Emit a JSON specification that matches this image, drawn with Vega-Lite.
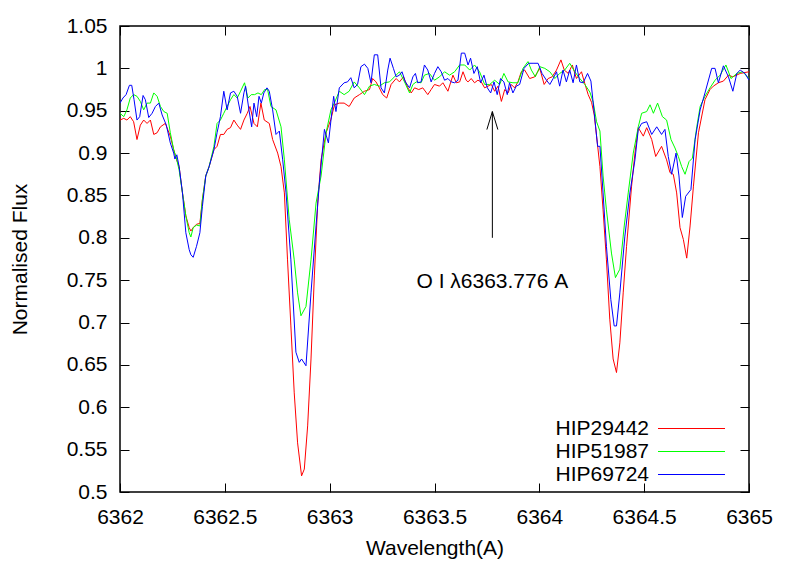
{
  "$schema": "https://vega.github.io/schema/vega-lite/v6.json",
  "width": 629,
  "height": 466,
  "autosize": {"type": "none"},
  "padding": {"left": 120, "top": 26, "right": 40, "bottom": 72},
  "background": "white",
  "config": {
    "font": "Liberation Sans",
    "view": {"stroke": "black", "strokeWidth": 1.5},
    "axis": {
      "labelFont": "Liberation Sans", "labelFontSize": 21, "labelColor": "black",
      "titleFont": "Liberation Sans", "titleFontSize": 21, "titleFontWeight": "normal", "titleColor": "black",
      "domain": false, "grid": false, "tickColor": "black", "tickWidth": 1
    }
  },
  "resolve": {"axis": {"x": "independent", "y": "independent"}},
  "layer": [
    {
      "data": {"values": [
        {"star":"HIP29442","wl":6362.000,"flux":0.939},{"star":"HIP29442","wl":6362.018,"flux":0.941},{"star":"HIP29442","wl":6362.033,"flux":0.939},{"star":"HIP29442","wl":6362.049,"flux":0.943},{"star":"HIP29442","wl":6362.065,"flux":0.937},{"star":"HIP29442","wl":6362.081,"flux":0.916},{"star":"HIP29442","wl":6362.097,"flux":0.933},{"star":"HIP29442","wl":6362.113,"flux":0.939},{"star":"HIP29442","wl":6362.129,"flux":0.935},{"star":"HIP29442","wl":6362.145,"flux":0.939},{"star":"HIP29442","wl":6362.161,"flux":0.922},{"star":"HIP29442","wl":6362.177,"flux":0.924},{"star":"HIP29442","wl":6362.193,"flux":0.931},{"star":"HIP29442","wl":6362.216,"flux":0.935},{"star":"HIP29442","wl":6362.240,"flux":0.920},{"star":"HIP29442","wl":6362.256,"flux":0.904},{"star":"HIP29442","wl":6362.270,"flux":0.892},{"star":"HIP29442","wl":6362.282,"flux":0.884},{"star":"HIP29442","wl":6362.298,"flux":0.853},{"star":"HIP29442","wl":6362.314,"flux":0.826},{"star":"HIP29442","wl":6362.330,"flux":0.812},{"star":"HIP29442","wl":6362.338,"flux":0.808},{"star":"HIP29442","wl":6362.349,"flux":0.812},{"star":"HIP29442","wl":6362.365,"flux":0.816},{"star":"HIP29442","wl":6362.381,"flux":0.817},{"star":"HIP29442","wl":6362.393,"flux":0.845},{"star":"HIP29442","wl":6362.409,"flux":0.873},{"star":"HIP29442","wl":6362.425,"flux":0.884},{"star":"HIP29442","wl":6362.448,"flux":0.904},{"star":"HIP29442","wl":6362.463,"flux":0.908},{"star":"HIP29442","wl":6362.479,"flux":0.922},{"star":"HIP29442","wl":6362.495,"flux":0.922},{"star":"HIP29442","wl":6362.511,"flux":0.928},{"star":"HIP29442","wl":6362.527,"flux":0.930},{"star":"HIP29442","wl":6362.543,"flux":0.939},{"star":"HIP29442","wl":6362.559,"flux":0.933},{"star":"HIP29442","wl":6362.575,"flux":0.928},{"star":"HIP29442","wl":6362.591,"flux":0.939},{"star":"HIP29442","wl":6362.607,"flux":0.947},{"star":"HIP29442","wl":6362.620,"flux":0.955},{"star":"HIP29442","wl":6362.639,"flux":0.935},{"star":"HIP29442","wl":6362.655,"flux":0.931},{"star":"HIP29442","wl":6362.672,"flux":0.959},{"star":"HIP29442","wl":6362.688,"flux":0.939},{"star":"HIP29442","wl":6362.712,"flux":0.935},{"star":"HIP29442","wl":6362.728,"flux":0.916},{"star":"HIP29442","wl":6362.752,"flux":0.900},{"star":"HIP29442","wl":6362.768,"flux":0.884},{"star":"HIP29442","wl":6362.784,"flux":0.853},{"star":"HIP29442","wl":6362.799,"flux":0.774},{"star":"HIP29442","wl":6362.815,"flux":0.696},{"star":"HIP29442","wl":6362.831,"flux":0.617},{"star":"HIP29442","wl":6362.847,"flux":0.558},{"star":"HIP29442","wl":6362.866,"flux":0.519},{"star":"HIP29442","wl":6362.879,"flux":0.527},{"star":"HIP29442","wl":6362.895,"flux":0.578},{"star":"HIP29442","wl":6362.911,"flux":0.657},{"star":"HIP29442","wl":6362.927,"flux":0.755},{"star":"HIP29442","wl":6362.943,"flux":0.841},{"star":"HIP29442","wl":6362.959,"flux":0.892},{"star":"HIP29442","wl":6362.983,"flux":0.924},{"star":"HIP29442","wl":6363.006,"flux":0.940},{"star":"HIP29442","wl":6363.023,"flux":0.957},{"star":"HIP29442","wl":6363.046,"flux":0.959},{"star":"HIP29442","wl":6363.069,"flux":0.959},{"star":"HIP29442","wl":6363.093,"flux":0.955},{"star":"HIP29442","wl":6363.117,"flux":0.965},{"star":"HIP29442","wl":6363.142,"flux":0.969},{"star":"HIP29442","wl":6363.166,"flux":0.973},{"star":"HIP29442","wl":6363.190,"flux":0.975},{"star":"HIP29442","wl":6363.205,"flux":0.988},{"star":"HIP29442","wl":6363.221,"flux":0.984},{"star":"HIP29442","wl":6363.237,"flux":0.977},{"star":"HIP29442","wl":6363.253,"flux":0.969},{"star":"HIP29442","wl":6363.272,"flux":0.965},{"star":"HIP29442","wl":6363.293,"flux":0.981},{"star":"HIP29442","wl":6363.317,"flux":0.988},{"star":"HIP29442","wl":6363.333,"flux":0.984},{"star":"HIP29442","wl":6363.352,"flux":0.990},{"star":"HIP29442","wl":6363.373,"flux":0.977},{"star":"HIP29442","wl":6363.389,"flux":0.971},{"star":"HIP29442","wl":6363.405,"flux":0.977},{"star":"HIP29442","wl":6363.425,"flux":0.975},{"star":"HIP29442","wl":6363.444,"flux":0.977},{"star":"HIP29442","wl":6363.468,"flux":0.969},{"star":"HIP29442","wl":6363.484,"flux":0.975},{"star":"HIP29442","wl":6363.500,"flux":0.981},{"star":"HIP29442","wl":6363.524,"flux":0.979},{"star":"HIP29442","wl":6363.540,"flux":0.983},{"star":"HIP29442","wl":6363.564,"flux":0.973},{"star":"HIP29442","wl":6363.588,"flux":0.992},{"star":"HIP29442","wl":6363.604,"flux":0.983},{"star":"HIP29442","wl":6363.620,"flux":0.984},{"star":"HIP29442","wl":6363.636,"flux":0.996},{"star":"HIP29442","wl":6363.651,"flux":0.986},{"star":"HIP29442","wl":6363.660,"flux":0.984},{"star":"HIP29442","wl":6363.675,"flux":0.988},{"star":"HIP29442","wl":6363.691,"flux":0.983},{"star":"HIP29442","wl":6363.707,"flux":0.986},{"star":"HIP29442","wl":6363.723,"flux":0.984},{"star":"HIP29442","wl":6363.739,"flux":0.977},{"star":"HIP29442","wl":6363.755,"flux":0.979},{"star":"HIP29442","wl":6363.771,"flux":0.981},{"star":"HIP29442","wl":6363.787,"flux":0.973},{"star":"HIP29442","wl":6363.803,"flux":0.979},{"star":"HIP29442","wl":6363.819,"flux":0.961},{"star":"HIP29442","wl":6363.835,"flux":0.975},{"star":"HIP29442","wl":6363.851,"flux":0.971},{"star":"HIP29442","wl":6363.866,"flux":0.981},{"star":"HIP29442","wl":6363.882,"flux":0.977},{"star":"HIP29442","wl":6363.898,"flux":0.984},{"star":"HIP29442","wl":6363.914,"flux":0.996},{"star":"HIP29442","wl":6363.930,"flux":0.998},{"star":"HIP29442","wl":6363.954,"flux":0.988},{"star":"HIP29442","wl":6363.978,"flux":0.990},{"star":"HIP29442","wl":6364.002,"flux":1.000},{"star":"HIP29442","wl":6364.023,"flux":0.981},{"star":"HIP29442","wl":6364.042,"flux":0.988},{"star":"HIP29442","wl":6364.061,"flux":0.990},{"star":"HIP29442","wl":6364.082,"flux":0.998},{"star":"HIP29442","wl":6364.103,"flux":1.010},{"star":"HIP29442","wl":6364.119,"flux":0.998},{"star":"HIP29442","wl":6364.138,"flux":0.994},{"star":"HIP29442","wl":6364.157,"flux":1.004},{"star":"HIP29442","wl":6364.177,"flux":0.988},{"star":"HIP29442","wl":6364.201,"flux":0.996},{"star":"HIP29442","wl":6364.217,"flux":0.982},{"star":"HIP29442","wl":6364.233,"flux":0.969},{"star":"HIP29442","wl":6364.249,"flux":0.960},{"star":"HIP29442","wl":6364.262,"flux":0.945},{"star":"HIP29442","wl":6364.273,"flux":0.920},{"star":"HIP29442","wl":6364.289,"flux":0.884},{"star":"HIP29442","wl":6364.304,"flux":0.833},{"star":"HIP29442","wl":6364.320,"flux":0.774},{"star":"HIP29442","wl":6364.336,"flux":0.704},{"star":"HIP29442","wl":6364.352,"flux":0.657},{"star":"HIP29442","wl":6364.368,"flux":0.641},{"star":"HIP29442","wl":6364.384,"flux":0.676},{"star":"HIP29442","wl":6364.400,"flux":0.735},{"star":"HIP29442","wl":6364.416,"flux":0.790},{"star":"HIP29442","wl":6364.440,"flux":0.861},{"star":"HIP29442","wl":6364.456,"flux":0.900},{"star":"HIP29442","wl":6364.472,"flux":0.930},{"star":"HIP29442","wl":6364.496,"flux":0.920},{"star":"HIP29442","wl":6364.512,"flux":0.930},{"star":"HIP29442","wl":6364.536,"flux":0.916},{"star":"HIP29442","wl":6364.555,"flux":0.896},{"star":"HIP29442","wl":6364.583,"flux":0.908},{"star":"HIP29442","wl":6364.607,"flux":0.892},{"star":"HIP29442","wl":6364.623,"flux":0.877},{"star":"HIP29442","wl":6364.639,"flux":0.875},{"star":"HIP29442","wl":6364.655,"flux":0.853},{"star":"HIP29442","wl":6364.671,"flux":0.812},{"star":"HIP29442","wl":6364.687,"flux":0.798},{"star":"HIP29442","wl":6364.703,"flux":0.776},{"star":"HIP29442","wl":6364.719,"flux":0.814},{"star":"HIP29442","wl":6364.735,"flux":0.861},{"star":"HIP29442","wl":6364.759,"flux":0.924},{"star":"HIP29442","wl":6364.790,"flux":0.963},{"star":"HIP29442","wl":6364.814,"flux":0.975},{"star":"HIP29442","wl":6364.830,"flux":0.979},{"star":"HIP29442","wl":6364.854,"flux":0.983},{"star":"HIP29442","wl":6364.878,"flux":0.985},{"star":"HIP29442","wl":6364.902,"flux":0.992},{"star":"HIP29442","wl":6364.923,"flux":0.990},{"star":"HIP29442","wl":6364.958,"flux":0.994},{"star":"HIP29442","wl":6365.000,"flux":0.996},

        {"star":"HIP51987","wl":6362.000,"flux":0.947},{"star":"HIP51987","wl":6362.018,"flux":0.943},{"star":"HIP51987","wl":6362.033,"flux":0.951},{"star":"HIP51987","wl":6362.049,"flux":0.965},{"star":"HIP51987","wl":6362.065,"flux":0.969},{"star":"HIP51987","wl":6362.081,"flux":0.967},{"star":"HIP51987","wl":6362.097,"flux":0.961},{"star":"HIP51987","wl":6362.113,"flux":0.951},{"star":"HIP51987","wl":6362.129,"flux":0.959},{"star":"HIP51987","wl":6362.145,"flux":0.959},{"star":"HIP51987","wl":6362.161,"flux":0.971},{"star":"HIP51987","wl":6362.177,"flux":0.967},{"star":"HIP51987","wl":6362.193,"flux":0.955},{"star":"HIP51987","wl":6362.209,"flux":0.949},{"star":"HIP51987","wl":6362.225,"flux":0.947},{"star":"HIP51987","wl":6362.240,"flux":0.924},{"star":"HIP51987","wl":6362.256,"flux":0.904},{"star":"HIP51987","wl":6362.270,"flux":0.893},{"star":"HIP51987","wl":6362.282,"flux":0.880},{"star":"HIP51987","wl":6362.298,"flux":0.853},{"star":"HIP51987","wl":6362.314,"flux":0.826},{"star":"HIP51987","wl":6362.330,"flux":0.806},{"star":"HIP51987","wl":6362.338,"flux":0.801},{"star":"HIP51987","wl":6362.349,"flux":0.812},{"star":"HIP51987","wl":6362.365,"flux":0.815},{"star":"HIP51987","wl":6362.381,"flux":0.814},{"star":"HIP51987","wl":6362.393,"flux":0.845},{"star":"HIP51987","wl":6362.409,"flux":0.873},{"star":"HIP51987","wl":6362.425,"flux":0.884},{"star":"HIP51987","wl":6362.448,"flux":0.908},{"star":"HIP51987","wl":6362.463,"flux":0.935},{"star":"HIP51987","wl":6362.479,"flux":0.939},{"star":"HIP51987","wl":6362.495,"flux":0.947},{"star":"HIP51987","wl":6362.511,"flux":0.955},{"star":"HIP51987","wl":6362.527,"flux":0.963},{"star":"HIP51987","wl":6362.543,"flux":0.969},{"star":"HIP51987","wl":6362.559,"flux":0.965},{"star":"HIP51987","wl":6362.575,"flux":0.973},{"star":"HIP51987","wl":6362.594,"flux":0.983},{"star":"HIP51987","wl":6362.610,"flux":0.965},{"star":"HIP51987","wl":6362.626,"flux":0.969},{"star":"HIP51987","wl":6362.642,"flux":0.969},{"star":"HIP51987","wl":6362.658,"flux":0.971},{"star":"HIP51987","wl":6362.674,"flux":0.969},{"star":"HIP51987","wl":6362.690,"flux":0.975},{"star":"HIP51987","wl":6362.704,"flux":0.975},{"star":"HIP51987","wl":6362.720,"flux":0.955},{"star":"HIP51987","wl":6362.744,"flux":0.951},{"star":"HIP51987","wl":6362.768,"flux":0.931},{"star":"HIP51987","wl":6362.784,"flux":0.892},{"star":"HIP51987","wl":6362.807,"flux":0.822},{"star":"HIP51987","wl":6362.831,"flux":0.774},{"star":"HIP51987","wl":6362.847,"flux":0.735},{"star":"HIP51987","wl":6362.863,"flux":0.708},{"star":"HIP51987","wl":6362.887,"flux":0.719},{"star":"HIP51987","wl":6362.911,"flux":0.774},{"star":"HIP51987","wl":6362.935,"flux":0.841},{"star":"HIP51987","wl":6362.959,"flux":0.873},{"star":"HIP51987","wl":6362.983,"flux":0.924},{"star":"HIP51987","wl":6363.006,"flux":0.951},{"star":"HIP51987","wl":6363.022,"flux":0.959},{"star":"HIP51987","wl":6363.046,"flux":0.973},{"star":"HIP51987","wl":6363.069,"flux":0.969},{"star":"HIP51987","wl":6363.093,"flux":0.973},{"star":"HIP51987","wl":6363.117,"flux":0.984},{"star":"HIP51987","wl":6363.142,"flux":0.977},{"star":"HIP51987","wl":6363.166,"flux":0.969},{"star":"HIP51987","wl":6363.190,"flux":0.979},{"star":"HIP51987","wl":6363.213,"flux":0.981},{"star":"HIP51987","wl":6363.237,"flux":0.979},{"star":"HIP51987","wl":6363.261,"flux":0.983},{"star":"HIP51987","wl":6363.285,"flux":0.984},{"star":"HIP51987","wl":6363.309,"flux":0.990},{"star":"HIP51987","wl":6363.333,"flux":0.996},{"star":"HIP51987","wl":6363.357,"flux":0.984},{"star":"HIP51987","wl":6363.381,"flux":0.971},{"star":"HIP51987","wl":6363.397,"flux":0.981},{"star":"HIP51987","wl":6363.413,"flux":0.984},{"star":"HIP51987","wl":6363.436,"flux":0.983},{"star":"HIP51987","wl":6363.452,"flux":0.992},{"star":"HIP51987","wl":6363.476,"flux":0.994},{"star":"HIP51987","wl":6363.500,"flux":0.986},{"star":"HIP51987","wl":6363.524,"flux":0.990},{"star":"HIP51987","wl":6363.548,"flux":0.996},{"star":"HIP51987","wl":6363.572,"flux":0.992},{"star":"HIP51987","wl":6363.596,"flux":0.996},{"star":"HIP51987","wl":6363.620,"flux":1.004},{"star":"HIP51987","wl":6363.644,"flux":1.004},{"star":"HIP51987","wl":6363.668,"flux":0.998},{"star":"HIP51987","wl":6363.691,"flux":1.004},{"star":"HIP51987","wl":6363.715,"flux":0.996},{"star":"HIP51987","wl":6363.739,"flux":0.981},{"star":"HIP51987","wl":6363.763,"flux":0.981},{"star":"HIP51987","wl":6363.787,"flux":0.986},{"star":"HIP51987","wl":6363.811,"flux":0.981},{"star":"HIP51987","wl":6363.831,"flux":0.994},{"star":"HIP51987","wl":6363.851,"flux":0.984},{"star":"HIP51987","wl":6363.874,"flux":0.983},{"star":"HIP51987","wl":6363.898,"flux":0.983},{"star":"HIP51987","wl":6363.922,"flux":1.000},{"star":"HIP51987","wl":6363.946,"flux":1.008},{"star":"HIP51987","wl":6363.962,"flux":0.998},{"star":"HIP51987","wl":6363.981,"flux":0.990},{"star":"HIP51987","wl":6364.002,"flux":1.002},{"star":"HIP51987","wl":6364.026,"flux":1.000},{"star":"HIP51987","wl":6364.050,"flux":0.996},{"star":"HIP51987","wl":6364.074,"flux":0.988},{"star":"HIP51987","wl":6364.097,"flux":0.994},{"star":"HIP51987","wl":6364.121,"flux":0.998},{"star":"HIP51987","wl":6364.145,"flux":1.006},{"star":"HIP51987","wl":6364.169,"flux":0.996},{"star":"HIP51987","wl":6364.193,"flux":0.988},{"star":"HIP51987","wl":6364.217,"flux":0.981},{"star":"HIP51987","wl":6364.241,"flux":0.972},{"star":"HIP51987","wl":6364.257,"flux":0.960},{"star":"HIP51987","wl":6364.273,"flux":0.937},{"star":"HIP51987","wl":6364.289,"flux":0.926},{"star":"HIP51987","wl":6364.304,"flux":0.873},{"star":"HIP51987","wl":6364.320,"flux":0.833},{"star":"HIP51987","wl":6364.344,"flux":0.782},{"star":"HIP51987","wl":6364.363,"flux":0.753},{"star":"HIP51987","wl":6364.384,"flux":0.763},{"star":"HIP51987","wl":6364.405,"flux":0.814},{"star":"HIP51987","wl":6364.424,"flux":0.853},{"star":"HIP51987","wl":6364.448,"flux":0.900},{"star":"HIP51987","wl":6364.472,"flux":0.931},{"star":"HIP51987","wl":6364.488,"flux":0.947},{"star":"HIP51987","wl":6364.512,"flux":0.949},{"star":"HIP51987","wl":6364.528,"flux":0.957},{"star":"HIP51987","wl":6364.544,"flux":0.947},{"star":"HIP51987","wl":6364.564,"flux":0.959},{"star":"HIP51987","wl":6364.587,"flux":0.943},{"star":"HIP51987","wl":6364.607,"flux":0.939},{"star":"HIP51987","wl":6364.628,"flux":0.916},{"star":"HIP51987","wl":6364.647,"flux":0.906},{"star":"HIP51987","wl":6364.663,"flux":0.896},{"star":"HIP51987","wl":6364.679,"flux":0.884},{"star":"HIP51987","wl":6364.695,"flux":0.875},{"star":"HIP51987","wl":6364.714,"flux":0.890},{"star":"HIP51987","wl":6364.730,"flux":0.894},{"star":"HIP51987","wl":6364.751,"flux":0.931},{"star":"HIP51987","wl":6364.767,"flux":0.955},{"star":"HIP51987","wl":6364.790,"flux":0.967},{"star":"HIP51987","wl":6364.814,"flux":0.977},{"star":"HIP51987","wl":6364.838,"flux":0.986},{"star":"HIP51987","wl":6364.862,"flux":0.992},{"star":"HIP51987","wl":6364.890,"flux":1.004},{"star":"HIP51987","wl":6364.914,"flux":0.988},{"star":"HIP51987","wl":6364.942,"flux":0.994},{"star":"HIP51987","wl":6364.970,"flux":0.996},{"star":"HIP51987","wl":6365.000,"flux":0.988},

        {"star":"HIP69724","wl":6362.000,"flux":0.959},{"star":"HIP69724","wl":6362.014,"flux":0.965},{"star":"HIP69724","wl":6362.029,"flux":0.969},{"star":"HIP69724","wl":6362.045,"flux":0.980},{"star":"HIP69724","wl":6362.056,"flux":0.980},{"star":"HIP69724","wl":6362.067,"flux":0.963},{"star":"HIP69724","wl":6362.081,"flux":0.939},{"star":"HIP69724","wl":6362.094,"flux":0.943},{"star":"HIP69724","wl":6362.110,"flux":0.968},{"star":"HIP69724","wl":6362.121,"flux":0.963},{"star":"HIP69724","wl":6362.137,"flux":0.942},{"star":"HIP69724","wl":6362.153,"flux":0.947},{"star":"HIP69724","wl":6362.169,"flux":0.955},{"star":"HIP69724","wl":6362.185,"flux":0.959},{"star":"HIP69724","wl":6362.201,"flux":0.945},{"star":"HIP69724","wl":6362.221,"flux":0.933},{"star":"HIP69724","wl":6362.240,"flux":0.912},{"star":"HIP69724","wl":6362.256,"flux":0.900},{"star":"HIP69724","wl":6362.262,"flux":0.893},{"star":"HIP69724","wl":6362.271,"flux":0.898},{"star":"HIP69724","wl":6362.282,"flux":0.884},{"star":"HIP69724","wl":6362.298,"flux":0.853},{"star":"HIP69724","wl":6362.314,"flux":0.806},{"star":"HIP69724","wl":6362.330,"flux":0.786},{"star":"HIP69724","wl":6362.338,"flux":0.780},{"star":"HIP69724","wl":6362.349,"flux":0.777},{"star":"HIP69724","wl":6362.365,"flux":0.790},{"star":"HIP69724","wl":6362.381,"flux":0.806},{"star":"HIP69724","wl":6362.393,"flux":0.837},{"star":"HIP69724","wl":6362.409,"flux":0.873},{"star":"HIP69724","wl":6362.425,"flux":0.884},{"star":"HIP69724","wl":6362.448,"flux":0.904},{"star":"HIP69724","wl":6362.463,"flux":0.924},{"star":"HIP69724","wl":6362.479,"flux":0.943},{"star":"HIP69724","wl":6362.495,"flux":0.973},{"star":"HIP69724","wl":6362.511,"flux":0.951},{"star":"HIP69724","wl":6362.527,"flux":0.971},{"star":"HIP69724","wl":6362.543,"flux":0.973},{"star":"HIP69724","wl":6362.559,"flux":0.967},{"star":"HIP69724","wl":6362.575,"flux":0.947},{"star":"HIP69724","wl":6362.591,"flux":0.971},{"star":"HIP69724","wl":6362.599,"flux":0.979},{"star":"HIP69724","wl":6362.615,"flux":0.951},{"star":"HIP69724","wl":6362.628,"flux":0.931},{"star":"HIP69724","wl":6362.639,"flux":0.959},{"star":"HIP69724","wl":6362.652,"flux":0.943},{"star":"HIP69724","wl":6362.663,"flux":0.967},{"star":"HIP69724","wl":6362.674,"flux":0.959},{"star":"HIP69724","wl":6362.686,"flux":0.971},{"star":"HIP69724","wl":6362.701,"flux":0.977},{"star":"HIP69724","wl":6362.712,"flux":0.973},{"star":"HIP69724","wl":6362.728,"flux":0.951},{"star":"HIP69724","wl":6362.744,"flux":0.922},{"star":"HIP69724","wl":6362.760,"flux":0.926},{"star":"HIP69724","wl":6362.776,"flux":0.892},{"star":"HIP69724","wl":6362.792,"flux":0.853},{"star":"HIP69724","wl":6362.815,"flux":0.774},{"star":"HIP69724","wl":6362.839,"flux":0.665},{"star":"HIP69724","wl":6362.855,"flux":0.653},{"star":"HIP69724","wl":6362.866,"flux":0.657},{"star":"HIP69724","wl":6362.887,"flux":0.649},{"star":"HIP69724","wl":6362.911,"flux":0.735},{"star":"HIP69724","wl":6362.935,"flux":0.814},{"star":"HIP69724","wl":6362.951,"flux":0.865},{"star":"HIP69724","wl":6362.975,"flux":0.928},{"star":"HIP69724","wl":6362.994,"flux":0.912},{"star":"HIP69724","wl":6363.019,"flux":0.967},{"star":"HIP69724","wl":6363.030,"flux":0.949},{"star":"HIP69724","wl":6363.046,"flux":0.977},{"star":"HIP69724","wl":6363.069,"flux":0.983},{"star":"HIP69724","wl":6363.085,"flux":0.984},{"star":"HIP69724","wl":6363.101,"flux":0.989},{"star":"HIP69724","wl":6363.117,"flux":0.977},{"star":"HIP69724","wl":6363.133,"flux":0.981},{"star":"HIP69724","wl":6363.149,"flux":1.002},{"star":"HIP69724","wl":6363.166,"flux":1.005},{"star":"HIP69724","wl":6363.182,"flux":1.000},{"star":"HIP69724","wl":6363.197,"flux":0.983},{"star":"HIP69724","wl":6363.213,"flux":1.016},{"star":"HIP69724","wl":6363.229,"flux":1.016},{"star":"HIP69724","wl":6363.245,"flux":0.977},{"star":"HIP69724","wl":6363.261,"flux":0.971},{"star":"HIP69724","wl":6363.277,"flux":0.998},{"star":"HIP69724","wl":6363.288,"flux":1.012},{"star":"HIP69724","wl":6363.304,"flux":1.000},{"star":"HIP69724","wl":6363.317,"flux":0.990},{"star":"HIP69724","wl":6363.333,"flux":0.992},{"star":"HIP69724","wl":6363.345,"flux":0.996},{"star":"HIP69724","wl":6363.361,"flux":0.984},{"star":"HIP69724","wl":6363.381,"flux":0.977},{"star":"HIP69724","wl":6363.397,"flux":0.990},{"star":"HIP69724","wl":6363.409,"flux":0.994},{"star":"HIP69724","wl":6363.420,"flux":0.983},{"star":"HIP69724","wl":6363.436,"flux":0.984},{"star":"HIP69724","wl":6363.452,"flux":1.004},{"star":"HIP69724","wl":6363.468,"flux":0.998},{"star":"HIP69724","wl":6363.484,"flux":0.984},{"star":"HIP69724","wl":6363.500,"flux":0.994},{"star":"HIP69724","wl":6363.516,"flux":1.002},{"star":"HIP69724","wl":6363.532,"flux":0.996},{"star":"HIP69724","wl":6363.548,"flux":0.986},{"star":"HIP69724","wl":6363.564,"flux":0.988},{"star":"HIP69724","wl":6363.580,"flux":0.984},{"star":"HIP69724","wl":6363.596,"flux":0.983},{"star":"HIP69724","wl":6363.612,"flux":0.986},{"star":"HIP69724","wl":6363.628,"flux":1.018},{"star":"HIP69724","wl":6363.644,"flux":1.018},{"star":"HIP69724","wl":6363.660,"flux":1.004},{"star":"HIP69724","wl":6363.672,"flux":1.012},{"star":"HIP69724","wl":6363.688,"flux":0.994},{"star":"HIP69724","wl":6363.704,"flux":1.002},{"star":"HIP69724","wl":6363.720,"flux":0.983},{"star":"HIP69724","wl":6363.736,"flux":0.992},{"star":"HIP69724","wl":6363.752,"flux":0.977},{"star":"HIP69724","wl":6363.768,"flux":0.971},{"star":"HIP69724","wl":6363.784,"flux":0.984},{"star":"HIP69724","wl":6363.799,"flux":0.969},{"star":"HIP69724","wl":6363.815,"flux":0.988},{"star":"HIP69724","wl":6363.831,"flux":0.984},{"star":"HIP69724","wl":6363.847,"flux":0.969},{"star":"HIP69724","wl":6363.858,"flux":0.983},{"star":"HIP69724","wl":6363.874,"flux":0.971},{"star":"HIP69724","wl":6363.890,"flux":0.979},{"star":"HIP69724","wl":6363.906,"flux":0.981},{"star":"HIP69724","wl":6363.927,"flux":1.000},{"star":"HIP69724","wl":6363.949,"flux":1.006},{"star":"HIP69724","wl":6363.970,"flux":1.006},{"star":"HIP69724","wl":6363.994,"flux":1.006},{"star":"HIP69724","wl":6364.013,"flux":0.994},{"star":"HIP69724","wl":6364.034,"flux":0.986},{"star":"HIP69724","wl":6364.050,"flux":0.981},{"star":"HIP69724","wl":6364.066,"flux":0.988},{"star":"HIP69724","wl":6364.082,"flux":0.996},{"star":"HIP69724","wl":6364.097,"flux":0.979},{"star":"HIP69724","wl":6364.113,"flux":0.998},{"star":"HIP69724","wl":6364.129,"flux":0.984},{"star":"HIP69724","wl":6364.145,"flux":0.998},{"star":"HIP69724","wl":6364.161,"flux":0.983},{"star":"HIP69724","wl":6364.177,"flux":1.004},{"star":"HIP69724","wl":6364.193,"flux":0.984},{"star":"HIP69724","wl":6364.209,"flux":0.983},{"star":"HIP69724","wl":6364.230,"flux":0.994},{"star":"HIP69724","wl":6364.246,"flux":0.985},{"star":"HIP69724","wl":6364.262,"flux":0.947},{"star":"HIP69724","wl":6364.278,"flux":0.908},{"star":"HIP69724","wl":6364.289,"flux":0.908},{"star":"HIP69724","wl":6364.304,"flux":0.853},{"star":"HIP69724","wl":6364.320,"flux":0.790},{"star":"HIP69724","wl":6364.341,"flux":0.727},{"star":"HIP69724","wl":6364.357,"flux":0.696},{"star":"HIP69724","wl":6364.368,"flux":0.696},{"star":"HIP69724","wl":6364.384,"flux":0.735},{"star":"HIP69724","wl":6364.408,"flux":0.802},{"star":"HIP69724","wl":6364.432,"flux":0.853},{"star":"HIP69724","wl":6364.456,"flux":0.892},{"star":"HIP69724","wl":6364.472,"flux":0.928},{"star":"HIP69724","wl":6364.488,"flux":0.935},{"star":"HIP69724","wl":6364.512,"flux":0.937},{"star":"HIP69724","wl":6364.536,"flux":0.922},{"star":"HIP69724","wl":6364.560,"flux":0.931},{"star":"HIP69724","wl":6364.583,"flux":0.922},{"star":"HIP69724","wl":6364.599,"flux":0.928},{"star":"HIP69724","wl":6364.615,"flux":0.896},{"star":"HIP69724","wl":6364.631,"flux":0.875},{"star":"HIP69724","wl":6364.652,"flux":0.900},{"star":"HIP69724","wl":6364.666,"flux":0.873},{"star":"HIP69724","wl":6364.682,"flux":0.824},{"star":"HIP69724","wl":6364.698,"flux":0.849},{"star":"HIP69724","wl":6364.723,"flux":0.857},{"star":"HIP69724","wl":6364.743,"flux":0.916},{"star":"HIP69724","wl":6364.767,"flux":0.951},{"star":"HIP69724","wl":6364.790,"flux":0.971},{"star":"HIP69724","wl":6364.822,"flux":1.000},{"star":"HIP69724","wl":6364.838,"flux":1.000},{"star":"HIP69724","wl":6364.854,"flux":0.983},{"star":"HIP69724","wl":6364.878,"flux":1.003},{"star":"HIP69724","wl":6364.902,"flux":0.990},{"star":"HIP69724","wl":6364.923,"flux":0.973},{"star":"HIP69724","wl":6364.942,"flux":0.994},{"star":"HIP69724","wl":6364.958,"flux":0.998},{"star":"HIP69724","wl":6364.981,"flux":0.994},{"star":"HIP69724","wl":6365.000,"flux":0.986}
      ]},
      "mark": {"type": "line", "strokeWidth": 1, "clip": true},
      "encoding": {
        "x": {"field": "wl", "type": "quantitative",
              "scale": {"domain": [6362, 6365], "nice": false, "zero": false},
              "axis": {"orient": "bottom", "title": "Wavelength(A)", "values": [6362, 6362.5, 6363, 6363.5, 6364, 6364.5, 6365],
                       "format": "~r", "ticks": false, "tickSize": 0, "labelPadding": 14, "titlePadding": 10, "labelFlush": false}},
        "y": {"field": "flux", "type": "quantitative",
              "scale": {"domain": [0.5, 1.05], "nice": false, "zero": false},
              "axis": {"orient": "left", "title": "Normalised Flux", "values": [0.5, 0.55, 0.6, 0.65, 0.7, 0.75, 0.8, 0.85, 0.9, 0.95, 1, 1.05],
                       "format": "~r", "ticks": false, "tickSize": 0, "labelPadding": 13, "titlePadding": 36, "labelFlush": false}},
        "color": {"field": "star", "type": "nominal",
                  "scale": {"domain": ["HIP29442", "HIP51987", "HIP69724"], "range": ["#ff0000", "#00ff00", "#0000ff"]},
                  "legend": {"orient": "none", "legendX": 561, "legendY": 392, "title": null,
                             "symbolType": "M-6.7,0L6.7,0", "symbolSize": 100, "symbolStrokeWidth": 1.2,
                             "labelAlign": "right", "labelOffset": -53, "labelFontSize": 21, "labelFont": "Liberation Sans",
                             "labelColor": "black", "labelLimit": 0, "rowPadding": 1, "padding": 0}}
      }
    },
    {
      "data": {"values": [{"wl": 6363.776, "from": 0.80, "to": 0.949}]},
      "mark": {"type": "rule", "color": "black", "strokeWidth": 1},
      "encoding": {
        "x": {"field": "wl", "type": "quantitative",
              "axis": {"orient": "top", "title": null, "labels": false, "values": [6362, 6362.5, 6363, 6363.5, 6364, 6364.5, 6365], "tickSize": -9}},
        "y": {"field": "from", "type": "quantitative",
              "axis": {"orient": "right", "title": null, "labels": false, "values": [0.5, 0.55, 0.6, 0.65, 0.7, 0.75, 0.8, 0.85, 0.9, 0.95, 1, 1.05], "tickSize": -9}},
        "y2": {"field": "to"}
      }
    },
    {
      "data": {"values": [{"wl": 6363.776, "tip": 0.949}]},
      "mark": {"type": "point", "shape": "M-1.1,3.6L0,0L1.1,3.6", "size": 100, "filled": false, "stroke": "black", "strokeWidth": 1, "opacity": 1},
      "encoding": {
        "x": {"field": "wl", "type": "quantitative",
              "axis": {"orient": "bottom", "title": null, "labels": false, "values": [6362, 6362.5, 6363, 6363.5, 6364, 6364.5, 6365], "tickSize": -9}},
        "y": {"field": "tip", "type": "quantitative",
              "axis": {"orient": "left", "title": null, "labels": false, "values": [0.5, 0.55, 0.6, 0.65, 0.7, 0.75, 0.8, 0.85, 0.9, 0.95, 1, 1.05], "tickSize": -9}}
      }
    },
    {
      "data": {"values": [{"wl": 6363.776, "pos": 0.741, "label": "O I λ6363.776 A"}]},
      "mark": {"type": "text", "font": "Liberation Sans", "fontSize": 21, "color": "black", "align": "center", "baseline": "alphabetic"},
      "encoding": {
        "x": {"field": "wl", "type": "quantitative", "axis": null},
        "y": {"field": "pos", "type": "quantitative", "axis": null},
        "text": {"field": "label"}
      }
    }
  ]
}
